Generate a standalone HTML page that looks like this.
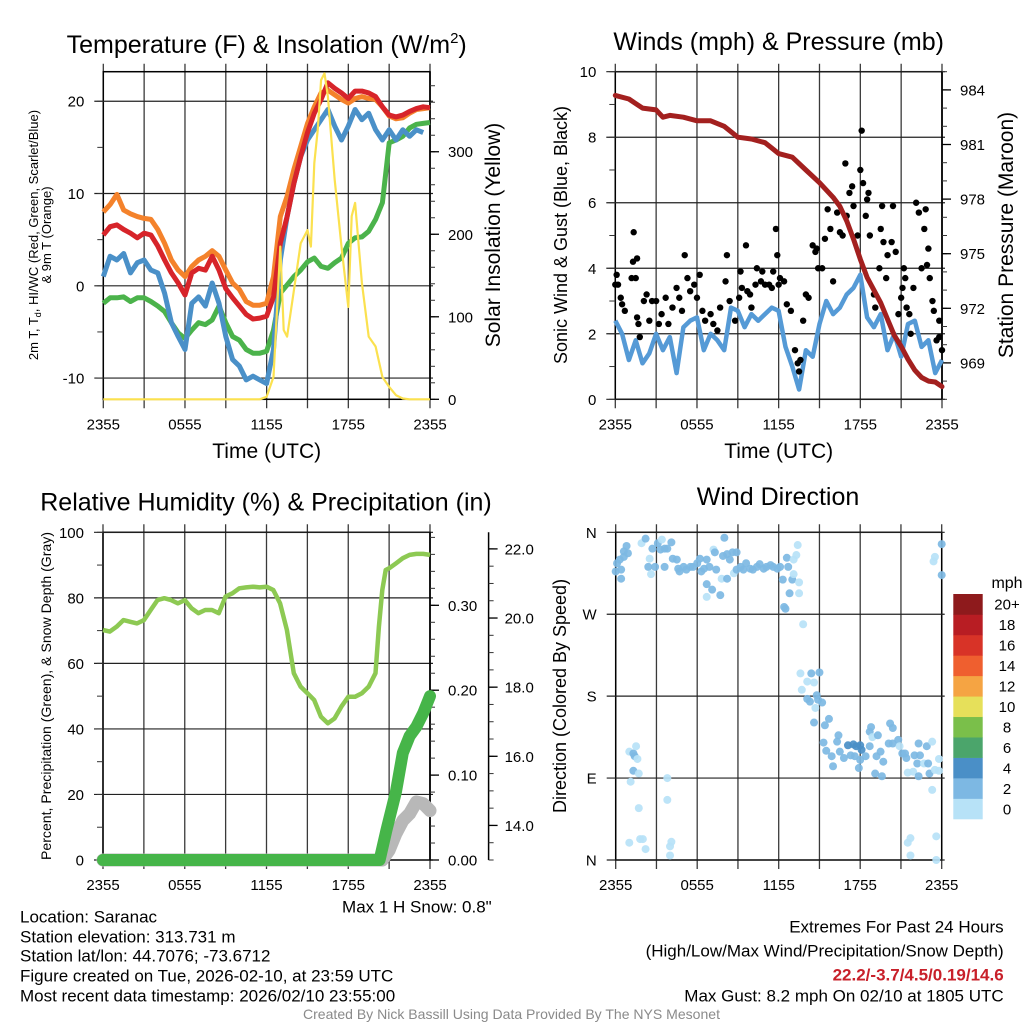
<!DOCTYPE html>
<html><head><meta charset="utf-8">
<style>
html,body{margin:0;padding:0;background:#fff;}
svg{display:block;font-family:"Liberation Sans",Arial,sans-serif;}
</style></head>
<body>
<svg id="fig" width="1024" height="1024" viewBox="0 0 1024 1024">
<g id="layer"></g>
<text x="266.7" y="53" font-size="25" text-anchor="middle">Temperature (F) &amp; Insolation (W/m<tspan dy="-10" font-size="15">2</tspan><tspan dy="10">)</tspan></text>
<text x="778.7" y="50" font-size="25" text-anchor="middle">Winds (mph) &amp; Pressure (mb)</text>
<text x="266" y="510.7" font-size="25" text-anchor="middle">Relative Humidity (%) &amp; Precipitation (in)</text>
<text x="778" y="505" font-size="25" text-anchor="middle">Wind Direction</text>
<text transform="translate(38,235) rotate(-90)" font-size="13" text-anchor="middle">2m T, T<tspan font-size="9" dy="3">d</tspan><tspan dy="-3">, HI/WC (Red, Green, Scarlet/Blue)</tspan></text>
<text transform="translate(51,235) rotate(-90)" font-size="13" text-anchor="middle">&amp; 9m T (Orange)</text>
<text transform="translate(500,235) rotate(-90)" font-size="21" text-anchor="middle">Solar Insolation (Yellow)</text>
<text x="266.7" y="458" font-size="21" text-anchor="middle">Time (UTC)</text>
<text x="778.7" y="458" font-size="21" text-anchor="middle">Time (UTC)</text>
<text transform="translate(567,235) rotate(-90)" font-size="18" text-anchor="middle">Sonic Wind &amp; Gust (Blue, Black)</text>
<text transform="translate(1013,235) rotate(-90)" font-size="21" text-anchor="middle">Station Pressure (Maroon)</text>
<text transform="translate(51,696) rotate(-90)" font-size="14" text-anchor="middle" textLength="328" lengthAdjust="spacingAndGlyphs">Percent, Precipitation (Green), &amp; Snow Depth (Gray)</text>
<text transform="translate(566,696) rotate(-90)" font-size="18" text-anchor="middle">Direction (Colored By Speed)</text>
<text x="1007" y="588" font-size="16" text-anchor="middle">mph</text>
<text x="491.7" y="912.7" font-size="17" text-anchor="end">Max 1 H Snow: 0.8"</text>
<g font-size="17">
<text x="20" y="922.7">Location: Saranac</text>
<text x="20" y="942.7">Station elevation: 313.731 m</text>
<text x="20" y="961.7">Station lat/lon: 44.7076; -73.6712</text>
<text x="20" y="981.7">Figure created on Tue, 2026-02-10, at 23:59 UTC</text>
<text x="20" y="1001.7">Most recent data timestamp: 2026/02/10 23:55:00</text>
</g>
<g font-size="17" text-anchor="end">
<text x="1003.7" y="932.7">Extremes For Past 24 Hours</text>
<text x="1003.7" y="956.7">(High/Low/Max Wind/Precipitation/Snow Depth)</text>
<text x="1003.7" y="980.7" font-weight="bold" fill="#c8202a">22.2/-3.7/4.5/0.19/14.6</text>
<text x="1003.7" y="1001.7">Max Gust: 8.2 mph On 02/10 at 1805 UTC</text>
</g>
<text x="511.5" y="1019" font-size="14" fill="#8a8a8a" text-anchor="middle" textLength="417" lengthAdjust="spacingAndGlyphs">Created By Nick Bassill Using Data Provided By The NYS Mesonet</text>
</svg>
<script>
const halfHours = [0,0.5,1,1.5,2,2.5,3,3.5,4,4.5,5,5.5,6,6.5,7,7.5,8,8.5,9,9.5,10,10.5,11,11.5,12,12.5,13,13.5,14,14.5,15,15.5,16,16.5,17,17.5,18,18.5,19,19.5,20,20.5,21,21.5,22,22.5,23,23.5,24];
const tempOrange = [8.0,8.8,9.9,8.2,7.8,7.5,7.3,7.2,6.1,4.6,2.8,1.7,1.0,2.1,2.8,3.2,3.8,3.2,1.7,0.3,-0.4,-1.7,-2.1,-2.1,-1.9,1.0,7.5,9.7,12.6,15.1,17.6,19.4,20.9,21.2,20.7,20.2,19.8,20.3,20.5,20.3,20.2,19.4,18.4,18.1,18.2,18.7,19.1,19.2,19.3];
const tempRed = [5.5,6.4,6.6,6.1,5.7,5.2,5.7,5.5,4.3,2.8,1.4,0.3,-1.0,1.4,1.9,1.7,3.2,1.7,-0.3,-1.3,-2.2,-3.1,-3.6,-3.5,-3.3,-1.2,4.6,7.5,11.1,14.0,16.6,18.7,20.2,22.0,21.4,20.9,20.3,21.1,21.1,20.9,20.5,19.4,18.5,18.3,18.5,18.9,19.2,19.4,19.3];
const dewGreen = [-1.9,-1.3,-1.3,-1.2,-1.7,-1.3,-1.3,-1.7,-2.2,-2.8,-4.0,-5.1,-5.7,-4.8,-4.0,-4.2,-3.7,-2.2,-4.0,-5.5,-5.9,-6.9,-7.3,-7.3,-7.1,-4.8,-0.8,0.1,1.0,1.7,2.6,3.0,2.1,1.9,2.5,3.0,4.6,5.2,5.3,5.9,7.2,9.0,15.5,15.8,16.2,17.1,17.5,17.6,17.7];
const windChillBlue = [1.0,3.2,2.8,3.5,1.4,2.5,2.8,1.7,1.4,-0.8,-4.0,-5.5,-6.9,-1.9,-1.2,-2.2,0.3,-1.9,-5.5,-8.0,-8.7,-10.2,-9.8,-10.2,-10.6,-6.9,2.8,7.5,11.1,14.0,15.8,16.9,18.0,19.1,17.3,15.8,17.3,19.1,18.0,18.7,16.9,15.8,16.9,15.8,16.9,16.2,16.9,16.6];
const solarTimes = [0,11.5,12,12.5,13,13.25,13.5,14,14.5,15,15.25,15.5,15.75,16,16.25,16.5,17,17.5,18,18.25,18.5,19,19.5,20,20.5,21,21.5,22,22.5,24];
const solarValues = [0,0,3,27,185,84,76,132,189,205,185,286,326,387,395,367,266,185,112,222,238,141,76,64,27,15,5,1,0,0];
const pressTimes = [0,1,2,3,3.5,4,5,6,7,8,9,10,11,11.5,12,13,14,15,16,16.5,17,17.5,18,18.5,19,19.5,20,20.5,21,21.5,22,22.5,23,23.5,24];
const pressValues = [983.7,983.5,983.0,982.9,982.5,982.6,982.5,982.3,982.3,982.0,981.4,981.3,981.1,980.8,980.5,980.3,979.6,978.9,978.1,977.6,976.8,975.8,974.7,973.7,973.0,972.3,971.4,970.5,969.9,969.2,968.6,968.2,968.0,967.95,967.7];
const windSpeed = [2.4,2.0,1.2,1.8,1.1,1.4,2.0,1.5,1.9,0.8,2.2,2.4,2.5,1.5,2.0,1.8,1.5,2.8,2.7,2.2,2.6,2.4,2.6,2.8,2.7,1.6,1.0,0.3,1.5,1.3,2.3,3.0,2.6,2.8,3.2,3.4,3.8,2.5,2.2,2.6,1.5,2.0,1.3,2.3,2.4,1.6,1.8,0.8,1.2];
const gustTimes = [0,0.1,0.2,0.4,0.5,0.7,1.35,1.2,1.5,1.3,1.6,1.6,1.8,1.7,2.1,2.3,2.5,2.7,3.0,3.2,3.4,3.7,3.9,4.2,4.5,4.7,4.9,5.1,5.3,5.5,5.8,6.0,6.2,6.4,6.6,7.0,7.2,7.5,7.7,8.1,8.2,8.4,8.8,9.1,9.2,9.3,9.6,9.7,9.9,10.0,10.3,10.4,10.7,10.8,11.0,11.3,11.5,11.6,11.8,11.9,12.0,12.1,12.4,12.6,12.9,13.2,13.4,13.5,13.6,13.8,14.0,14.2,14.5,14.7,14.8,14.9,15.2,15.4,15.6,15.8,16.0,16.3,16.5,16.7,16.9,17.0,17.2,17.4,17.5,17.8,18.0,18.1,18.2,18.4,18.5,18.6,18.7,19.0,19.1,19.4,19.5,19.6,19.7,19.9,20.0,20.3,20.4,20.6,20.8,21.0,21.1,21.2,21.3,21.4,21.6,21.7,21.9,22.1,22.3,22.5,22.7,22.8,22.9,23.0,23.1,23.3,23.4,23.6,23.8,23.8,24.0];
const gustValues = [3.5,3.8,3.5,3.1,2.9,2.7,5.1,3.7,3.7,4.2,4.3,2.5,1.9,2.3,3.0,3.2,2.4,3.0,3.0,2.3,2.6,3.1,2.3,2.8,3.4,3.1,2.7,4.4,3.7,3.3,3.5,3.1,3.8,2.7,2.4,2.6,2.3,2.1,2.8,3.6,4.4,3.0,2.4,3.1,3.9,3.4,4.7,3.3,3.2,2.8,3.5,4.0,3.6,3.9,3.5,3.5,3.4,3.9,5.2,4.4,3.5,3.7,3.6,2.9,2.7,1.5,1.1,0.85,1.2,2.4,3.2,3.1,4.7,4.5,4.6,4.0,4.0,4.9,5.8,5.2,3.6,5.7,5.1,5.0,7.2,5.6,6.3,6.5,5.9,5.0,7.0,8.2,6.6,5.6,6.1,6.3,5.0,3.2,2.8,4.0,5.2,5.9,4.8,3.7,4.4,4.8,5.9,4.5,2.6,3.1,3.4,4.0,3.7,2.8,2.6,2.0,3.4,6.0,5.7,4.0,5.2,5.8,4.1,4.6,3.7,3.0,2.7,1.8,1.9,2.4,1.5];
const rhTimes = [0,0.5,1,1.5,2,2.5,3,3.5,4,4.5,5,5.5,6,6.5,7,7.5,8,8.5,9,9.5,10,10.5,11,11.5,12,12.5,13,13.5,14,14.5,15,15.5,16,16.5,17,17.5,18,18.5,19,19.5,20,20.25,20.5,20.75,21,21.5,22,22.5,23,23.5,24];
const rhValues = [70.2,69.7,71.2,73.2,72.7,72.2,73.2,76.3,79.3,79.9,79.3,78.3,79.3,76.8,75.3,76.3,76.3,75.3,80.4,81.4,82.9,83.2,83.4,83.2,83.4,82.4,78.3,70.2,57.0,52.9,50.9,48.8,43.7,41.7,43.2,46.8,49.8,49.8,50.9,52.9,57.0,71.2,82.4,88.5,89.0,90.5,92.1,93.1,93.4,93.4,93.1];
const precipTimes = [0,20.3,20.8,21.5,22,22.5,23,23.5,24];
const precipValues = [0,0,0.035,0.08,0.126,0.146,0.157,0.173,0.193];
const snowTimes = [0,20.5,21,21.5,22,22.5,23,23.5,24];
const snowValues = [13.0,13.0,13.28,13.76,14.14,14.34,14.68,14.63,14.43];
const dirTimes = [0,0.1,0.3,0.4,0.4,0.6,0.8,0.9,0.6,1.9,2.2,2.5,2.7,2.4,2.6,2.9,3.1,3.3,3.4,3.6,3.6,3.8,4.1,4.2,4.5,4.6,4.7,5.0,5.2,5.5,5.7,6.0,6.2,6.3,6.5,6.7,6.7,6.9,7.1,7.2,7.3,7.4,7.7,7.8,7.9,8.0,8.2,8.2,8.4,8.6,8.7,8.9,8.9,9.2,9.4,9.6,9.9,10.1,10.4,10.6,10.9,11.1,11.4,11.6,11.9,12.1,12.3,12.6,12.7,12.8,13.0,13.1,13.3,13.4,13.1,13.5,13.5,12.4,12.5,13.8,6.7,
13.6,14.1,14.4,14.6,15.0,13.7,14.1,14.3,14.8,14.9,15.2,14.7,14.6,15.4,15.7,15.3,16.4,16.3,15.5,15.9,16.0,16.5,16.8,17.1,17.5,17.7,18.0,18.1,17.3,17.6,17.9,18.0,18.4,18.7,18.7,18.8,18.9,19.2,19.3,19.5,19.7,19.1,19.6,20.1,20.2,20.4,20.4,20.8,20.9,21.1,21.3,21.4,21.5,21.9,22.0,22.3,22.4,22.2,22.3,22.7,22.9,23.0,23.1,23.3,23.5,23.8,23.8,23.3,
1.0,1.3,1.4,1.5,1.6,1.3,1.7,1.1,1.7,3.8,3.8,
1.0,1.8,2.0,2.2,4.0,4.1,4.0,21.5,21.7,21.7,23.6,23.6,
23.5,23.4,24.0,24.0];
const dirDegrees = [317,326,330,319,309,339,345,337,333,348,353,331,342,322,314,322,348,341,352,342,322,342,349,331,330,320,317,322,319,322,322,326,331,317,320,330,303,322,297,341,338,319,291,309,334,354,336,309,330,338,315,338,319,322,319,326,320,319,322,325,320,322,324,322,320,322,308,332,322,293,308,330,335,346,314,305,293,278,276,259,289,
205,196,205,195,206,187,177,174,181,176,173,167,151,148,155,129,137,130,120,114,103,119,112,126,127,125,126,121,115,114,101,110,114,125,141,146,135,114,137,119,108,95,92,128,150,145,128,132,125,117,117,112,96,97,115,128,115,106,92,106,125,106,95,130,99,111,98,77,
119,117,114,125,111,98,95,86,57,90,66,
19,23,23,12,15,20,5,19,24,5,26,0,
333,328,347,313];
const dirSpeeds = [3,3,3,3,3,3,3,3,3,1,3,1,3,3,1,3,3,3,1,3,3,3,3,3,3,3,3,3,3,3,3,3,3,3,3,3,3,3,3,1,3,3,3,1,3,3,3,3,3,3,1,3,3,3,3,3,3,3,3,3,3,3,3,3,3,3,3,3,3,3,3,1,1,1,1,1,1,3,3,1,1,
1,1,3,1,3,1,3,3,3,3,3,1,3,3,3,3,3,3,3,3,3,3,3,5,5,5,5,5,3,3,3,3,3,3,3,3,1,3,3,3,3,3,3,3,3,3,3,3,1,3,3,3,1,1,3,3,3,3,3,1,3,3,3,1,1,1,1,1,
1,3,3,1,1,3,1,1,1,1,1,
1,1,1,1,1,1,1,1,1,1,1,1,
1,1,3,3];
const speedBinLabels = ['0','2','4','6','8','10','12','14','16','18','20+'];
const speedBinColors = ['#b7e2f7','#7db8e3','#4a8fc7','#4ba56b','#7abf4a','#e6e05a','#f5a443','#ef5f2f','#d83327','#b81d23','#8e1a1c'];
const timeTickLabels = ['2355','0555','1155','1755','2355'];
const timeTickHours = [0,6,12,18,24];
const dirTickLabels = ['N','E','S','W','N'];
const dirTickValues = [0,90,180,270,360];

const NS = 'http://www.w3.org/2000/svg';
const layer = document.getElementById('layer');
function mk(tag, attrs, parent) {
  const el = document.createElementNS(NS, tag);
  for (const k in attrs) el.setAttribute(k, attrs[k]);
  (parent || layer).appendChild(el);
  return el;
}
function xOf(p, t) { return p.L + t / 24 * (p.R - p.L); }
function yOf(p, v, lo, hi) { return p.B - (v - lo) / (hi - lo) * (p.B - p.T); }
function pathD(p, ts, vs, lo, hi) {
  let d = '';
  for (let i = 0; i < vs.length; i++) d += (i ? 'L' : 'M') + xOf(p, ts[i]).toFixed(1) + ',' + yOf(p, vs[i], lo, hi).toFixed(1);
  return d;
}
function txt(x, y, s, size, anchor, parent) {
  const t = mk('text', {x: x, y: y, 'font-size': size, 'text-anchor': anchor}, parent);
  t.textContent = s;
  return t;
}

const P1 = {L:103.3, R:430, T:71.7, B:399.3};
const P2 = {L:615.3, R:942, T:71.7, B:399.3};
const P3 = {L:103, R:430, T:532.3, B:860};
const P4 = {L:615.7, R:941.7, T:532.3, B:860};

function frameAndTime(p, name) {
  for (let h = 0; h <= 24; h += 3) {
    const x = xOf(p, h);
    const g = mk('line', {x1: x, x2: x, y1: p.T - 8, y2: p.B + 9, stroke: '#3a3a3a', 'stroke-width': 1.3});
    
    
  }
  for (let i = 0; i < timeTickHours.length; i++) {
    const t = txt(xOf(p, timeTickHours[i]), p.B + 30, timeTickLabels[i], 15, 'middle');
    
    
  }
  const r = mk('rect', {x: p.L, y: p.T, width: p.R - p.L, height: p.B - p.T, fill: 'none', stroke: '#000', 'stroke-width': 1.5});
  
  
}
function leftAxis(p, name, lo, hi, majors, labels, minorStep) {
  for (let i = 0; i < majors.length; i++) {
    const y = yOf(p, majors[i], lo, hi);
    const g = mk('line', {x1: p.L - 9, x2: p.R + 3, y1: y, y2: y, stroke: '#222', 'stroke-width': 1.2});
    
    
    const t = txt(p.L - 19, y + 5.5, labels[i], 15, 'end');
    
    
  }
  if (minorStep) {
    for (let v = Math.ceil(lo / minorStep) * minorStep; v <= hi; v += minorStep) {
      const y = yOf(p, v, lo, hi);
      const m = mk('line', {x1: p.L - 6, x2: p.L, y1: y, y2: y, stroke: '#333', 'stroke-width': 1});
      
      
    }
  }
}
function rightAxis(p, name, ax, lo, hi, majors, labels, minorStep, labelDx) {
  const al = mk('line', {x1: ax, x2: ax, y1: p.T, y2: p.B, stroke: '#000', 'stroke-width': 1.5});
  
  
  for (let v = Math.ceil(lo / minorStep - 1e-6) * minorStep; v <= hi + 1e-6; v += minorStep) {
    const y = yOf(p, v, lo, hi);
    const m = mk('line', {x1: ax, x2: ax + 5, y1: y, y2: y, stroke: '#333', 'stroke-width': 1});
    
    
  }
  for (let i = 0; i < majors.length; i++) {
    const y = yOf(p, majors[i], lo, hi);
    const tk = mk('line', {x1: ax, x2: ax + 9, y1: y, y2: y, stroke: '#000', 'stroke-width': 1.3});
    
    
    const t = txt(ax + labelDx, y + 5.5, labels[i], 15, 'start');
    
    
  }
}

// Panel 1
const T_LO = -12.3, T_HI = 23.2, S_LO = 0, S_HI = 397;
frameAndTime(P1, 'temperature');
leftAxis(P1, 'temperature', T_LO, T_HI, [-10,0,10,20], ['-10','0','10','20'], 5);
rightAxis(P1, 'insolation', P1.R, S_LO, S_HI, [0,100,200,300], ['0','100','200','300'], 20, 18);
const sOr = mk('path', {d: pathD(P1, halfHours, tempOrange, T_LO, T_HI), fill: 'none', stroke: '#f4822b', 'stroke-width': 5, 'stroke-linejoin': 'round'});


const sGr = mk('path', {d: pathD(P1, halfHours, dewGreen, T_LO, T_HI), fill: 'none', stroke: '#4bb34b', 'stroke-width': 5, 'stroke-linejoin': 'round'});


const sBl = mk('path', {d: pathD(P1, halfHours, windChillBlue, T_LO, T_HI), fill: 'none', stroke: '#4a90c8', 'stroke-width': 5, 'stroke-linejoin': 'round'});


const sRd = mk('path', {d: pathD(P1, halfHours, tempRed, T_LO, T_HI), fill: 'none', stroke: '#d7242a', 'stroke-width': 5, 'stroke-linejoin': 'round'});


const sYl = mk('path', {d: pathD(P1, solarTimes, solarValues, S_LO, S_HI), fill: 'none', stroke: '#fbe14f', 'stroke-width': 2.2, 'stroke-linejoin': 'round'});



// Panel 2
const W_LO = 0, W_HI = 10, PR_LO = 967.0, PR_HI = 985.0;
frameAndTime(P2, 'winds');
leftAxis(P2, 'winds', W_LO, W_HI, [0,2,4,6,8,10], ['0','2','4','6','8','10'], 1);
rightAxis(P2, 'pressure', P2.R, PR_LO, PR_HI, [969,972,975,978,981,984], ['969','972','975','978','981','984'], 1, 18);
const sWd = mk('path', {d: pathD(P2, halfHours, windSpeed, W_LO, W_HI), fill: 'none', stroke: '#559ad6', 'stroke-width': 4.5, 'stroke-linejoin': 'round'});


for (let i = 0; i < gustValues.length; i++) {
  const c = mk('circle', {cx: xOf(P2, gustTimes[i]), cy: yOf(P2, gustValues[i], W_LO, W_HI), r: 3.2, fill: '#000'});
  
  
}
const sPr = mk('path', {d: pathD(P2, pressTimes, pressValues, PR_LO, PR_HI), fill: 'none', stroke: '#a3201f', 'stroke-width': 5, 'stroke-linejoin': 'round', 'stroke-linecap': 'round'});



// Panel 3
const RH_LO = 0, RH_HI = 100, PC_LO = 0, PC_HI = 0.386, SN_LO = 13.0, SN_HI = 22.48;
frameAndTime(P3, 'humidity');
leftAxis(P3, 'humidity', RH_LO, RH_HI, [0,20,40,60,80,100], ['0','20','40','60','80','100'], 10);
rightAxis(P3, 'precipitation', P3.R, PC_LO, PC_HI, [0,0.1,0.2,0.3], ['0.00','0.10','0.20','0.30'], 0.02, 18);
rightAxis(P3, 'snow-depth', 488.6, SN_LO, SN_HI, [14,16,18,20,22], ['14.0','16.0','18.0','20.0','22.0'], 0.5, 16);
const sSn = mk('path', {d: pathD(P3, snowTimes, snowValues, SN_LO, SN_HI), fill: 'none', stroke: '#b8b8b8', 'stroke-width': 13, 'stroke-linejoin': 'round', 'stroke-linecap': 'round'});


const sPc = mk('path', {d: pathD(P3, precipTimes, precipValues, PC_LO, PC_HI), fill: 'none', stroke: '#46b549', 'stroke-width': 12, 'stroke-linejoin': 'round', 'stroke-linecap': 'round'});


const sRh = mk('path', {d: pathD(P3, rhTimes, rhValues, RH_LO, RH_HI), fill: 'none', stroke: '#8dc953', 'stroke-width': 4.5, 'stroke-linejoin': 'round'});



// Panel 4
frameAndTime(P4, 'direction');
leftAxis(P4, 'direction', 0, 360, dirTickValues, dirTickLabels, 0);
for (let i = 0; i < dirDegrees.length; i++) {
  const bin = Math.min(10, Math.floor(dirSpeeds[i] / 2));
  const c = mk('circle', {cx: xOf(P4, dirTimes[i]), cy: yOf(P4, dirDegrees[i], 0, 360), r: 4, fill: speedBinColors[bin], 'fill-opacity': 0.92});
  
  
}
const cbTop = 594, cbBottom = 819, cbX = 953.3, cbW = 29.4;
const nBins = speedBinColors.length;
const cbBox = (cbBottom - cbTop) / nBins;
for (let i = 0; i < nBins; i++) {
  const y = cbBottom - (i + 1) * cbBox;
  const b = mk('rect', {x: cbX, y: y, width: cbW, height: cbBox + 0.3, fill: speedBinColors[i]});
  
  
  const lbl = txt(1007, y + cbBox / 2 + 5.5, speedBinLabels[i], 15, 'middle');
  
  
}
</script>
</body></html>
